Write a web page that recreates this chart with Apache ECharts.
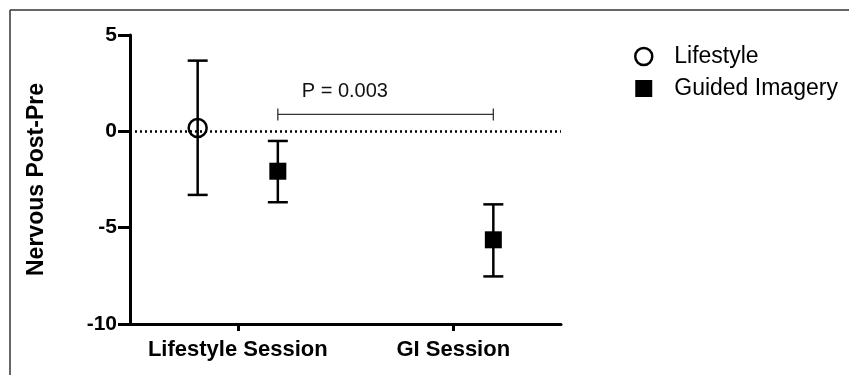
<!DOCTYPE html>
<html>
<head>
<meta charset="utf-8">
<script src="https://cdn.jsdelivr.net/npm/echarts@6/dist/echarts.min.js"></script>
<style>
html,body{margin:0;padding:0;background:#fff;}
#c{width:849px;height:375px;}
</style>
</head>
<body>
<div id="c"></div>
<script>
// Data
var categories = ['Lifestyle Session', 'GI Session'];
var seriesNames = ['Lifestyle', 'Guided Imagery'];
// [categoryIndex, mean, lower, upper]
var lifestyleData = [[0, 0.17, -3.3, 3.67]];
var guidedData = [[0, -2.07, -3.68, -0.5], [1, -5.63, -7.53, -3.79]];
var yTicks = [-10, -5, 0, 5];
var pBracket = [[0, 1, 0.88]]; // from category, to category, y
var pText = 'P = 0.003';

var FONT = '"Liberation Sans", Arial, Helvetica, sans-serif';
var OFF = 0.186;

function errRender(sign, shape) {
  return function (params, api) {
    var band = api.size([1, 0])[0];
    var dx = sign * OFF * band;
    var c = api.coord([api.value(0), api.value(1)]);
    var lo = api.coord([api.value(0), api.value(2)]);
    var hi = api.coord([api.value(0), api.value(3)]);
    var x = c[0] + dx;
    var cap = 10;
    var ls = {stroke: '#000', lineWidth: 2.5};
    var children = [
      {type: 'line', shape: {x1: x, y1: lo[1], x2: x, y2: hi[1]}, style: ls},
      {type: 'line', shape: {x1: x - cap, y1: lo[1], x2: x + cap, y2: lo[1]}, style: ls},
      {type: 'line', shape: {x1: x - cap, y1: hi[1], x2: x + cap, y2: hi[1]}, style: ls}
    ];
    if (shape === 'circle') {
      children.push({type: 'circle', shape: {cx: x, cy: c[1], r: 9}, style: {fill: 'rgba(255,255,255,0)', stroke: '#000', lineWidth: 2.5}});
    } else {
      children.push({type: 'rect', shape: {x: x - 8.5, y: c[1] - 8.5, width: 17, height: 17}, style: {fill: '#000'}});
    }
    return {type: 'group', children: children};
  };
}

var chart = echarts.init(document.getElementById('c'));
chart.setOption({
  animation: false,
  backgroundColor: '#fff',
  grid: {left: 130, right: 288, top: 35, bottom: 51},
  legend: {
    left: 629, top: 40, orient: 'vertical', itemGap: 9,
    itemWidth: 17, itemHeight: 17,
    textStyle: {fontFamily: FONT, fontSize: 23, color: '#000', padding: [0, 0, 0, 17]},
    data: [
      {name: 'Lifestyle', icon: 'circle', itemStyle: {color: '#fff', borderColor: '#000', borderWidth: 2.5}},
      {name: 'Guided Imagery', icon: 'rect', itemStyle: {color: '#000'}}
    ]
  },
  xAxis: {
    type: 'category', data: categories, boundaryGap: true,
    axisLine: {onZero: false, lineStyle: {color: '#000', width: 3}},
    axisTick: {show: true, interval: 0, alignWithLabel: true, length: 7, lineStyle: {color: '#000', width: 3}},
    axisLabel: {interval: 0, hideOverlap: false, fontFamily: FONT, fontSize: 22, fontWeight: 'bold', color: '#000', margin: 15},
    splitLine: {show: false}
  },
  yAxis: {
    type: 'value', min: -10, max: 5, interval: 5,
    name: 'Nervous Post-Pre', nameLocation: 'middle', nameGap: 82,
    nameTextStyle: {fontFamily: FONT, fontSize: 23, fontWeight: 'bold', color: '#000'},
    axisLine: {show: true, lineStyle: {color: '#000', width: 3}},
    axisTick: {show: true, length: 12, lineStyle: {color: '#000', width: 3}},
    axisLabel: {fontFamily: FONT, fontSize: 21, fontWeight: 'bold', color: '#000', margin: 13,
      formatter: function (v) { return yTicks.indexOf(v) >= 0 ? String(v) : ''; }},
    splitLine: {show: false}
  },
  series: [
    {
      name: seriesNames[0], type: 'custom', data: lifestyleData,
      itemStyle: {color: '#fff', borderColor: '#000'},
      renderItem: errRender(-1, 'circle'), z: 5,
      markLine: {
        silent: true, symbol: 'none', label: {show: false},
        lineStyle: {color: '#000', type: [2, 3], width: 2.5},
        emphasis: {disabled: true},
        data: [{yAxis: 0}]
      }
    },
    {
      name: seriesNames[1], type: 'custom', data: guidedData,
      itemStyle: {color: '#000'},
      renderItem: errRender(1, 'rect'), z: 5
    },
    {
      name: 'bracket', type: 'custom', data: pBracket, silent: true,
      renderItem: function (params, api) {
        var band = api.size([1, 0])[0];
        var a = api.coord([api.value(0), api.value(2)]);
        var b = api.coord([api.value(1), api.value(2)]);
        var x1 = a[0] + OFF * band, x2 = b[0] + OFF * band, y = a[1];
        var ls = {stroke: '#333', lineWidth: 1.3};
        return {type: 'group', children: [
          {type: 'line', shape: {x1: x1, y1: y, x2: x2, y2: y}, style: ls},
          {type: 'line', shape: {x1: x1, y1: y - 6, x2: x1, y2: y + 6}, style: ls},
          {type: 'line', shape: {x1: x2, y1: y - 6, x2: x2, y2: y + 6}, style: ls},
          {type: 'text', style: {text: pText, x: x1 + 67, y: y - 23, textAlign: 'center', textVerticalAlign: 'middle',
            font: '20px ' + FONT, fill: '#111'}}
        ]};
      }
    }
  ],
  graphic: [
    {type: 'line', shape: {x1: 10, y1: 10, x2: 849, y2: 10}, style: {stroke: '#333', lineWidth: 1.5}},
    {type: 'line', shape: {x1: 10, y1: 10, x2: 10, y2: 375}, style: {stroke: '#333', lineWidth: 1.5}}
  ]
});
</script>
</body>
</html>
